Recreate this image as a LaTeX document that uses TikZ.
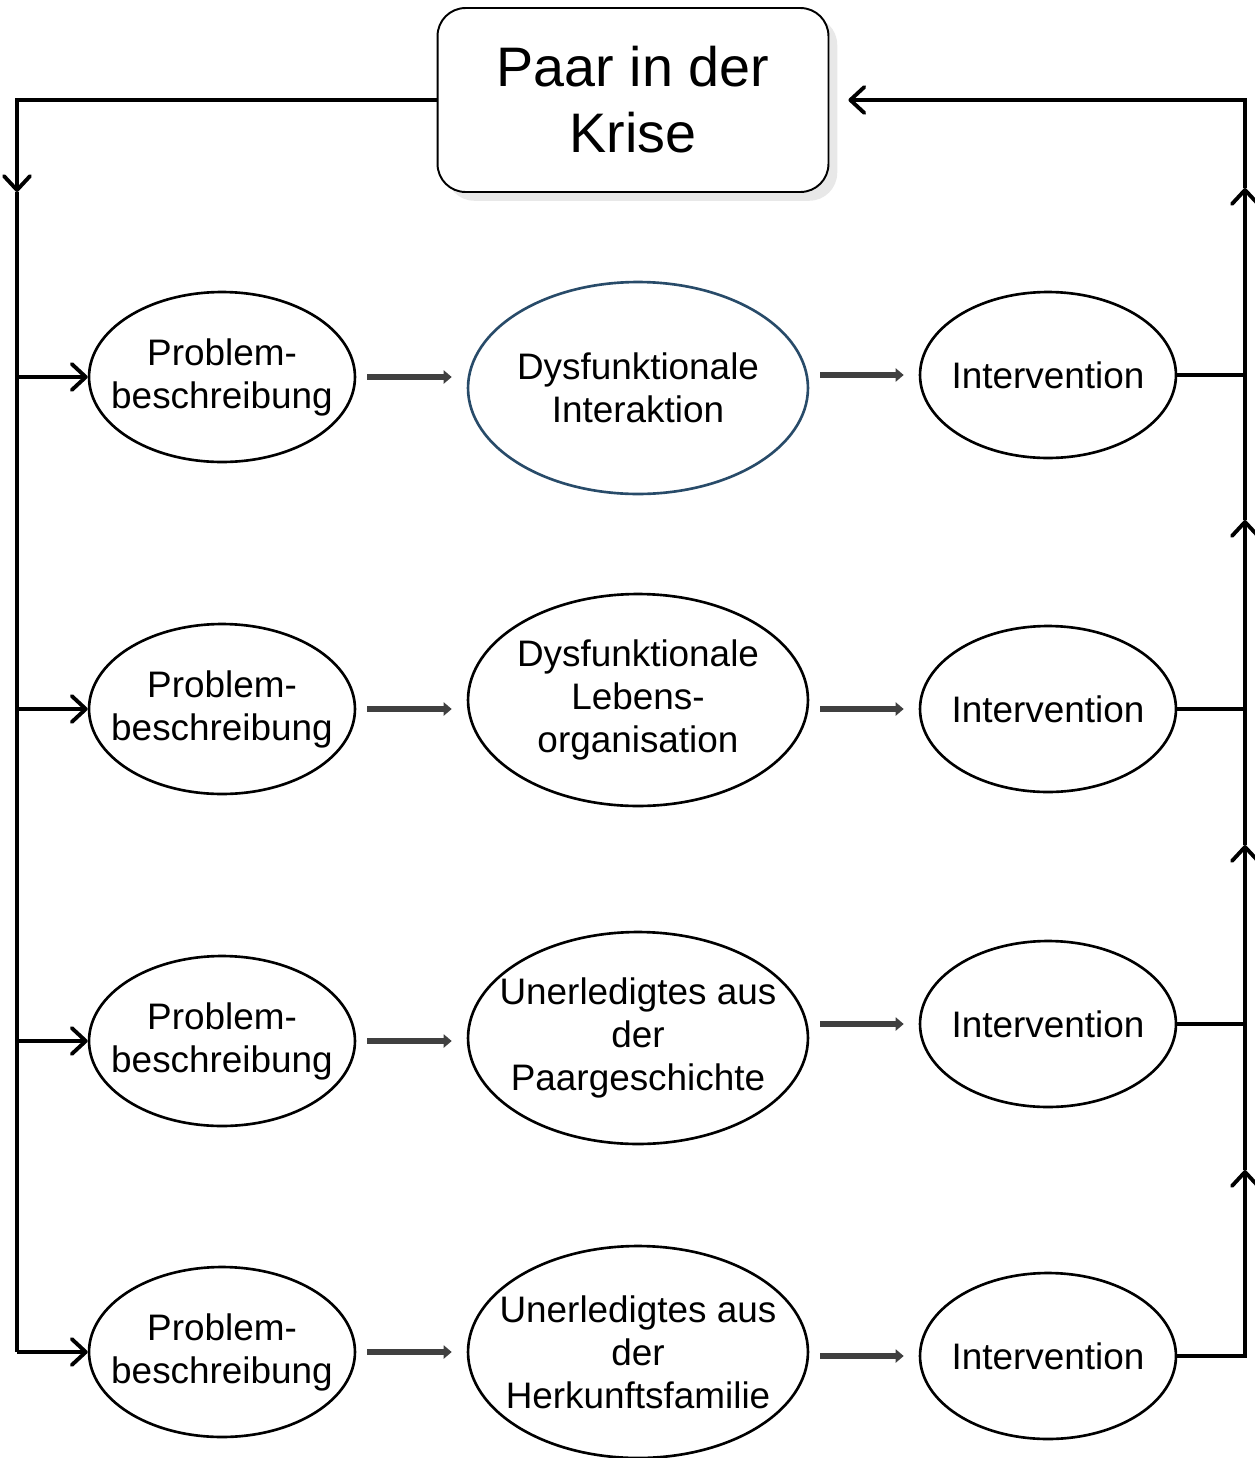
\documentclass[tikz,border=0pt]{standalone}
\usepackage{fontspec}
\setmainfont{Liberation Sans}
\usetikzlibrary{shapes.geometric,arrows.meta,shadows}
\definecolor{ovalblue}{RGB}{40,75,105}

\begin{document}
\begin{tikzpicture}[x=0.02cm, y=-0.02cm,
    every node/.style = {align=center, font=\fontsize{21}{24.5}\selectfont},
    >={Straight Barb[length=2.8mm,width=5.2mm,line width=2.2pt,round]}]
  \tikzstyle{oval}=[ellipse, draw, line width=1.5pt, inner xsep=-1cm, inner ysep=0pt]
  \tikzstyle{problem}=[oval, minimum width=5.32cm, minimum height=3.4cm]
  \tikzstyle{ursache}=[oval, minimum width=6.8cm, minimum height=4.24cm]
  \tikzstyle{eingriff}=[oval, minimum width=5.12cm, minimum height=3.32cm]
  \tikzstyle{rahmen}=[line width=1.8pt]
  \tikzstyle{schritt}=[line width=3pt, black!75, shorten <=0.22cm, shorten >=0.3cm,
          -{Triangle[length=1.6mm,width=2.6mm]}]
  \useasboundingbox (0,0) rectangle (1255,1458);

  % Ausgangslage
  \node[draw, rounded corners=0.56cm, line width=1.1pt, fill=white,
        minimum width=7.82cm, minimum height=3.68cm,
        drop shadow={opacity=0.18, shadow xshift=5pt, shadow yshift=-5pt},
        font=\fontsize{31.7}{37.5}\selectfont] (krise) at (633,100) {Paar in der \\ Krise};

  % Zeilen
  \node[problem] (p1) at (222,377) {Problem- \\ beschreibung};
  \node[ursache, draw=ovalblue] (u1) at (638,388) {Dysfunktionale \\ Interaktion};
  \node[eingriff] (i1) at (1048,375) {Intervention};

  \node[problem] (p2) at (222,709) {Problem- \\ beschreibung};
  \node[ursache] (u2) at (638,700) {Dysfunktionale \\ Lebens- \\ organisation};
  \node[eingriff] (i2) at (1048,709) {Intervention};

  \node[problem] (p3) at (222,1041) {Problem- \\ beschreibung};
  \node[ursache] (u3) at (638,1038) {Unerledigtes aus \\ der \\ Paargeschichte};
  \node[eingriff] (i3) at (1048,1024) {Intervention};

  \node[problem] (p4) at (222,1352) {Problem- \\ beschreibung};
  \node[ursache] (u4) at (638,1352) {Unerledigtes aus \\ der \\ Herkunftsfamilie};
  \node[eingriff] (i4) at (1048,1356) {Intervention};

  \foreach \i in {1,...,4} {
    \draw[schritt] (p\i.east) -- (p\i.east -| u\i.west);
    \draw[schritt] (u\i.east |- i\i.west) -- (i\i.west);
  }

  % linker Rahmen
  \coordinate (l0) at (17,192);
  \draw[rahmen,->] (krise.west) -| (l0);
  \draw[rahmen] (l0) -- (l0 |- p4.west);
  \foreach \i in {1,...,4}
    \draw[rahmen,->] (l0 |- p\i.west) -- (p\i.west);

  % rechter Rahmen
  \coordinate (a1) at (1245,188);
  \coordinate (a2) at (1245,520);
  \coordinate (a3) at (1245,845);
  \coordinate (a4) at (1245,1170);
  \draw[rahmen,->] (i4.east) -| (a4);
  \draw[rahmen,->] (a4) -- (a3);
  \draw[rahmen,->] (a3) -- (a2);
  \draw[rahmen,->] (a2) -- (a1);
  \draw[rahmen,->,shorten >=0.38cm] (a1) |- (krise.east);
  \foreach \i in {1,2,3}
    \draw[rahmen] (i\i.east) -- (i\i.east -| a1);
\end{tikzpicture}
\end{document}
